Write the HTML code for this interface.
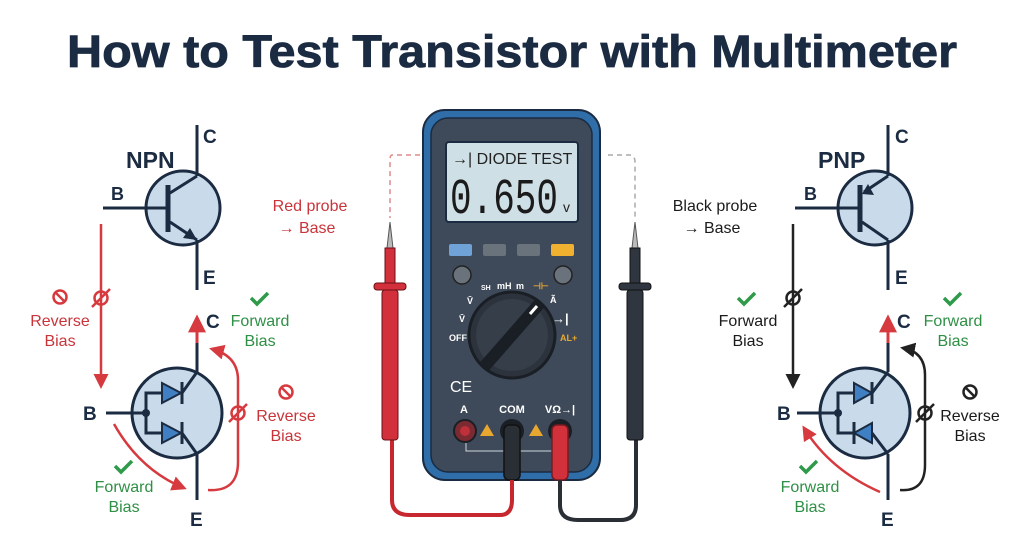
<!DOCTYPE html>
<html><head><meta charset="utf-8"><style>
html,body{margin:0;padding:0;background:#fff;}
svg{display:block;font-family:"Liberation Sans",sans-serif;}
</style></head><body>
<svg width="1024" height="559" viewBox="0 0 1024 559" xmlns="http://www.w3.org/2000/svg">
<defs>
<marker id="ar" viewBox="0 0 10 10" refX="8" refY="5" markerWidth="6" markerHeight="6" orient="auto"><path d="M0,0L10,5L0,10z" fill="#d63a3f"/></marker>
<marker id="ak" viewBox="0 0 10 10" refX="8" refY="5" markerWidth="6" markerHeight="6" orient="auto"><path d="M0,0L10,5L0,10z" fill="#222"/></marker>
<g id="nr"><circle cx="0" cy="0" r="6.5" fill="none" stroke-width="2.5"/><line x1="-9" y1="9" x2="9" y2="-9" stroke-width="2.5"/></g>
</defs>
<rect width="1024" height="559" fill="#fff"/>
<text x="512" y="67" text-anchor="middle" font-size="45" font-weight="bold" fill="#1b2b42" textLength="890" lengthAdjust="spacingAndGlyphs" stroke="#1b2b42" stroke-width="0.8">How to Test Transistor with Multimeter</text>

<!-- ===== NPN top ===== -->
<g stroke="#1b2b42" stroke-width="3" fill="none">
<circle cx="183" cy="208" r="37" fill="#c9dbea"/>
<line x1="197" y1="125" x2="197" y2="176"/>
<line x1="197" y1="176" x2="170" y2="193"/>
<line x1="168" y1="185" x2="168" y2="232" stroke-width="5"/>
<line x1="103" y1="208" x2="168" y2="208"/>
<line x1="170" y1="222" x2="197" y2="240"/>
<line x1="197" y1="240" x2="197" y2="290"/>
</g>
<path d="M197,240 L183,238 L190,228z" fill="#1b2b42"/>
<g font-weight="bold" fill="#1b2b42">
<text x="126" y="168" font-size="23">NPN</text>
<text x="203" y="143" font-size="19">C</text>
<text x="111" y="200" font-size="18">B</text>
<text x="203" y="284" font-size="19">E</text>
</g>
<g fill="#c9343a" font-size="16" text-anchor="middle">
<text x="310" y="211">Red probe</text>
<text x="307" y="233">→ Base</text>
</g>
<line x1="101" y1="224" x2="101" y2="386" stroke="#d63a3f" stroke-width="2.5" marker-end="url(#ar)"/>
<use href="#nr" x="101" y="298" stroke="#d63a3f"/>
<circle cx="60" cy="297" r="6.5" fill="none" stroke="#d63a3f" stroke-width="2.5"/><line x1="55.5" y1="292.5" x2="64.5" y2="301.5" stroke="#d63a3f" stroke-width="2.5"/>
<g fill="#c9343a" font-size="16" text-anchor="middle"><text x="60" y="326">Reverse</text><text x="60" y="346">Bias</text></g>

<!-- NPN bottom -->
<g stroke="#1b2b42" stroke-width="3" fill="none">
<circle cx="177" cy="413" r="45" fill="#c9dbea"/>
<line x1="197" y1="340" x2="197" y2="372"/>
<line x1="197" y1="372" x2="182" y2="393"/>
<line x1="197" y1="454" x2="182" y2="433"/>
<line x1="197" y1="454" x2="197" y2="500"/>
<line x1="106" y1="413" x2="146" y2="413"/>
<polyline points="146,413 146,393 162,393"/>
<polyline points="146,413 146,433 162,433"/>
<line x1="182" y1="382" x2="182" y2="404"/>
<line x1="182" y1="422" x2="182" y2="444"/>
</g>
<circle cx="146" cy="413" r="4" fill="#1b2b42"/>
<path d="M162,383 L181,393 L162,403z" fill="#3f7fc2" stroke="#1b2b42" stroke-width="2"/>
<path d="M162,423 L181,433 L162,443z" fill="#3f7fc2" stroke="#1b2b42" stroke-width="2"/>
<line x1="197" y1="343" x2="197" y2="318" stroke="#d63a3f" stroke-width="3" marker-end="url(#ar)"/>
<g font-weight="bold" fill="#1b2b42" font-size="19">
<text x="206" y="328">C</text><text x="83" y="420">B</text><text x="190" y="526">E</text>
</g>
<path d="M114,424 Q140,470 184,488" fill="none" stroke="#d63a3f" stroke-width="2.5" marker-end="url(#ar)"/>
<path d="M208,490 Q238,492 238,462 L238,380 Q238,356 212,349" fill="none" stroke="#d63a3f" stroke-width="2.5" marker-end="url(#ar)"/>
<use href="#nr" x="238" y="413" stroke="#d63a3f"/>
<circle cx="286" cy="392" r="6.5" fill="none" stroke="#d63a3f" stroke-width="2.5"/><line x1="281.5" y1="387.5" x2="290.5" y2="396.5" stroke="#d63a3f" stroke-width="2.5"/>
<g fill="#c9343a" font-size="16" text-anchor="middle"><text x="286" y="421">Reverse</text><text x="286" y="441">Bias</text></g>
<path d="M251,298 l6,6 l11,-11" fill="none" stroke="#2e9a4a" stroke-width="3.5"/>
<g fill="#2e8f45" font-size="16" text-anchor="middle"><text x="260" y="326">Forward</text><text x="260" y="346">Bias</text></g>
<path d="M115,466 l6,6 l11,-11" fill="none" stroke="#2e9a4a" stroke-width="3.5"/>
<g fill="#2e8f45" font-size="16" text-anchor="middle"><text x="124" y="492">Forward</text><text x="124" y="512">Bias</text></g>

<!-- ===== PNP top ===== -->
<g stroke="#1b2b42" stroke-width="3" fill="none">
<circle cx="875" cy="208" r="37" fill="#c9dbea"/>
<line x1="888" y1="125" x2="888" y2="176"/>
<line x1="888" y1="176" x2="864" y2="192"/>
<line x1="860" y1="185" x2="860" y2="232" stroke-width="5"/>
<line x1="795" y1="208" x2="860" y2="208"/>
<line x1="862" y1="222" x2="888" y2="240"/>
<line x1="888" y1="240" x2="888" y2="290"/>
</g>
<path d="M862,194 L868,184 L874,195z" fill="#1b2b42"/>
<g font-weight="bold" fill="#1b2b42">
<text x="818" y="168" font-size="23">PNP</text>
<text x="895" y="143" font-size="19">C</text>
<text x="804" y="200" font-size="18">B</text>
<text x="895" y="284" font-size="19">E</text>
</g>
<g fill="#1b1b1b" font-size="16" text-anchor="middle">
<text x="715" y="211">Black probe</text>
<text x="712" y="233">→ Base</text>
</g>
<line x1="793" y1="224" x2="793" y2="386" stroke="#222" stroke-width="2.5" marker-end="url(#ak)"/>
<use href="#nr" x="793" y="298" stroke="#222"/>
<path d="M738,298 l6,6 l11,-11" fill="none" stroke="#2e9a4a" stroke-width="3.5"/>
<g fill="#1b1b1b" font-size="16" text-anchor="middle"><text x="748" y="326">Forward</text><text x="748" y="346">Bias</text></g>

<!-- PNP bottom -->
<g stroke="#1b2b42" stroke-width="3" fill="none">
<circle cx="865" cy="413" r="45" fill="#c9dbea"/>
<line x1="888" y1="340" x2="888" y2="372"/>
<line x1="888" y1="372" x2="872" y2="393"/>
<line x1="888" y1="454" x2="872" y2="433"/>
<line x1="888" y1="454" x2="888" y2="500"/>
<line x1="797" y1="413" x2="838" y2="413"/>
<polyline points="838,413 838,393 854,393"/>
<polyline points="838,413 838,433 854,433"/>
<line x1="872" y1="382" x2="872" y2="404"/>
<line x1="854" y1="422" x2="854" y2="444"/>
</g>
<circle cx="838" cy="413" r="4" fill="#1b2b42"/>
<path d="M854,383 L872,393 L854,403z" fill="#3f7fc2" stroke="#1b2b42" stroke-width="2"/>
<path d="M872,423 L854,433 L872,443z" fill="#3f7fc2" stroke="#1b2b42" stroke-width="2"/>
<line x1="888" y1="343" x2="888" y2="318" stroke="#d63a3f" stroke-width="3" marker-end="url(#ar)"/>
<g font-weight="bold" fill="#1b2b42" font-size="19">
<text x="897" y="328">C</text><text x="777" y="420">B</text><text x="881" y="526">E</text>
</g>
<path d="M880,492 Q830,470 804,428" fill="none" stroke="#d63a3f" stroke-width="2.5" marker-end="url(#ar)"/>
<path d="M900,490 Q925,492 925,465 L925,375 Q925,352 903,348" fill="none" stroke="#222" stroke-width="2.5" marker-end="url(#ak)"/>
<use href="#nr" x="925" y="413" stroke="#222"/>
<circle cx="970" cy="392" r="6.5" fill="none" stroke="#222" stroke-width="2.5"/><line x1="965.5" y1="387.5" x2="974.5" y2="396.5" stroke="#222" stroke-width="2.5"/>
<g fill="#1b1b1b" font-size="16" text-anchor="middle"><text x="970" y="421">Reverse</text><text x="970" y="441">Bias</text></g>
<path d="M944,298 l6,6 l11,-11" fill="none" stroke="#2e9a4a" stroke-width="3.5"/>
<g fill="#2e8f45" font-size="16" text-anchor="middle"><text x="953" y="326">Forward</text><text x="953" y="346">Bias</text></g>
<path d="M800,466 l6,6 l11,-11" fill="none" stroke="#2e9a4a" stroke-width="3.5"/>
<g fill="#2e8f45" font-size="16" text-anchor="middle"><text x="810" y="492">Forward</text><text x="810" y="512">Bias</text></g>

<!-- ===== Multimeter ===== -->
<path d="M420,155 L392,155 Q390,155 390,160 L390,218" fill="none" stroke="#e08a8a" stroke-width="1.5" stroke-dasharray="5,4"/>
<path d="M608,155 L630,155 Q635,156 635,162 L635,218" fill="none" stroke="#aaa" stroke-width="1.5" stroke-dasharray="5,4"/>
<rect x="423" y="110" width="177" height="370" rx="22" fill="#2f6ea8" stroke="#1b2b42" stroke-width="2"/>
<rect x="431" y="118" width="161" height="354" rx="17" fill="#3e4a59" stroke="#1b2b42" stroke-width="1.5"/>
<rect x="446" y="142" width="132" height="80" rx="3" fill="#cfdfe6" stroke="#1b2b42" stroke-width="2"/>
<text x="452" y="164" font-size="16" fill="#222">→| DIODE TEST</text>
<text x="450" y="213" font-size="50" fill="#1b1b1b" font-family="Liberation Mono, monospace" textLength="108" lengthAdjust="spacingAndGlyphs">0.650</text>
<text x="563" y="212" font-size="14" fill="#222">v</text>
<rect x="449" y="244" width="23" height="12" rx="2" fill="#6fa3d8"/>
<rect x="483" y="244" width="23" height="12" rx="2" fill="#6a737c"/>
<rect x="517" y="244" width="23" height="12" rx="2" fill="#6a737c"/>
<rect x="551" y="244" width="23" height="12" rx="2" fill="#f0b030"/>
<circle cx="462" cy="275" r="9" fill="#6a737c" stroke="#222" stroke-width="1.5"/>
<circle cx="563" cy="275" r="9" fill="#6a737c" stroke="#222" stroke-width="1.5"/>
<circle cx="512" cy="335" r="43" fill="#2c333d" stroke="#1a1f26" stroke-width="3"/>
<circle cx="512" cy="335" r="36" fill="#353e49"/>
<line x1="484" y1="367" x2="540" y2="303" stroke="#1a1f26" stroke-width="12"/>
<line x1="530" y1="314" x2="537" y2="306" stroke="#fff" stroke-width="3"/>
<g font-size="9" font-weight="bold" fill="#fff">
<text x="449" y="341">OFF</text><text x="459" y="322">V̄</text><text x="467" y="304">V̄</text>
<text x="481" y="290" font-size="7">SH</text><text x="497" y="289">mH</text><text x="516" y="289">m</text>
<text x="550" y="303">Ã</text><text x="552" y="323" font-size="13">→|</text>
</g>
<g font-size="9" font-weight="bold" fill="#e8a830"><text x="533" y="289">⊣⊢</text><text x="560" y="341">AL+</text></g>
<text x="450" y="392" font-size="16" fill="#fff">CE</text>
<g font-size="11" font-weight="bold" fill="#fff" text-anchor="middle">
<text x="464" y="413">A</text><text x="512" y="413">COM</text><text x="560" y="413">VΩ→|</text>
</g>
<circle cx="465" cy="431" r="11" fill="#7a2a30" stroke="#1a1f26" stroke-width="2"/>
<circle cx="465" cy="431" r="5" fill="#c0303a"/>
<circle cx="512" cy="431" r="12" fill="#1a1f26"/>
<circle cx="560" cy="431" r="12" fill="#1a1f26"/>
<path d="M487,424 L494,436 L480,436z" fill="#e8a830"/>
<path d="M536,424 L543,436 L529,436z" fill="#e8a830"/>
<path d="M466,443 L466,451 L556,451" fill="none" stroke="#cfd5dc" stroke-width="1"/>
<rect x="504" y="425" width="16" height="55" rx="5" fill="#2a2f36" stroke="#111" stroke-width="1.5"/>
<rect x="552" y="425" width="16" height="55" rx="5" fill="#d2303a" stroke="#7a1a20" stroke-width="1.5"/>
<path d="M392,438 L392,500 Q392,515 410,515 L500,515 Q512,515 512,500 L512,480" fill="none" stroke="#c7282f" stroke-width="4"/>
<path d="M560,480 L560,505 Q560,520 578,520 L620,520 Q636,520 636,505 L636,438" fill="none" stroke="#2a2f36" stroke-width="4"/>
<path d="M390,222 L393,248 L387,248z" fill="#bbb" stroke="#555" stroke-width="1"/>
<rect x="385" y="248" width="10" height="35" fill="#d2303a" stroke="#6a1015" stroke-width="1"/>
<rect x="374" y="283" width="32" height="7" rx="3" fill="#d2303a" stroke="#6a1015" stroke-width="1"/>
<rect x="382" y="290" width="16" height="150" rx="3" fill="#d2303a" stroke="#6a1015" stroke-width="1"/>
<path d="M635,222 L638,248 L632,248z" fill="#bbb" stroke="#555" stroke-width="1"/>
<rect x="630" y="248" width="10" height="35" fill="#2f3640" stroke="#111" stroke-width="1"/>
<rect x="619" y="283" width="32" height="7" rx="3" fill="#2f3640" stroke="#111" stroke-width="1"/>
<rect x="627" y="290" width="16" height="150" rx="3" fill="#2f3640" stroke="#111" stroke-width="1"/>
</svg>
</body></html>
